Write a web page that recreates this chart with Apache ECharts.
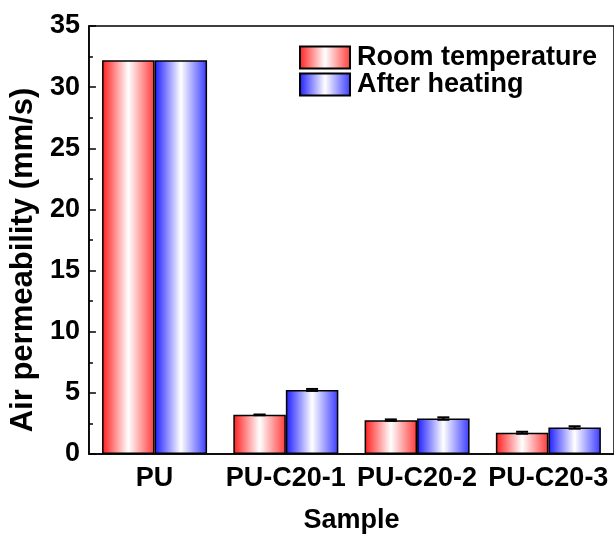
<!DOCTYPE html>
<html>
<head>
<meta charset="utf-8">
<script src="https://cdn.jsdelivr.net/npm/echarts@6/dist/echarts.min.js"></script>
<style>
  html, body { margin: 0; padding: 0; background: #fff; }
  #chart { width: 614px; height: 539px; }
</style>
</head>
<body>
<div id="chart"></div>
<script>
// Air permeability of the samples, measured at room temperature and after heating
const categories = ['PU', 'PU-C20-1', 'PU-C20-2', 'PU-C20-3'];
const roomTemp = [32.2, 3.2, 2.77, 1.74];
const afterHeating = [32.2, 5.24, 2.9, 2.17];
const roomTempErr = [0, 0.03, 0.06, 0.08];
const afterHeatingErr = [0, 0.08, 0.1, 0.1];
const seriesNames = ['Room temperature', 'After heating'];
const yTicks = { min: 0, max: 35, step: 5 };

const FONT = '"Liberation Sans", Arial, sans-serif';

function stripe(edgeL, edgeR) {
  return new echarts.graphic.LinearGradient(0, 0, 1, 0, [
    { offset: 0, color: edgeL },
    { offset: 0.5, color: '#ffffff' },
    { offset: 1, color: edgeR }
  ]);
}
const redFill = stripe('#ff1c1c', '#ff3a3a');
const blueFill = stripe('#1c1cff', '#3a3aff');

// error bar drawn over one bar of a grouped pair (side: -1 left, +1 right)
function errorBars(values, errs, side) {
  return {
    type: 'custom',
    silent: true,
    z: 5,
    data: values.map((v, i) => [i, v, errs[i]]),
    renderItem: function (params, api) {
      const e = api.value(2);
      if (!e) return null;
      const i = api.value(0), v = api.value(1);
      const band = api.size([1, 0])[0];
      const c = api.coord([i, v]);
      const x = c[0] + side * band * 0.2;
      const yHi = api.coord([i, v + e])[1];
      const yLo = api.coord([i, v - e])[1];
      const half = 6;
      const style = { stroke: '#000', lineWidth: 2 };
      return {
        type: 'group',
        children: [
          { type: 'line', shape: { x1: x, y1: yHi, x2: x, y2: yLo }, style: style },
          { type: 'line', shape: { x1: x - half, y1: yHi, x2: x + half, y2: yHi }, style: style },
          { type: 'line', shape: { x1: x - half, y1: yLo, x2: x + half, y2: yLo }, style: style }
        ]
      };
    }
  };
}

const chart = echarts.init(document.getElementById('chart'), null, { renderer: 'canvas' });
chart.setOption({
  animation: false,
  backgroundColor: '#fff',
  textStyle: { fontFamily: FONT },
  grid: {
    left: 83, top: 26, width: 534, height: 429,
    show: true, borderColor: '#000', borderWidth: 1.5, backgroundColor: 'transparent'
  },
  legend: {
    data: seriesNames.map(n => ({ name: n, icon: 'rect' })),
    orient: 'vertical',
    left: 294, top: 39,
    itemWidth: 50, itemHeight: 22,
    itemGap: 0,
    selectedMode: false,
    textStyle: { fontFamily: FONT, fontWeight: 'bold', fontSize: 27, color: '#000', lineHeight: 27, padding: [0, 0, 0, 2] },
    itemStyle: { borderColor: '#000', borderWidth: 2 }
  },
  xAxis: {
    type: 'category',
    data: categories,
    name: 'Sample',
    nameLocation: 'middle',
    nameGap: 53,
    nameTextStyle: { fontFamily: FONT, fontWeight: 'bold', fontSize: 27, color: '#000' },
    axisLine: { lineStyle: { color: '#000', width: 1.5 } },
    axisTick: { inside: true, length: 4, lineStyle: { color: '#000', width: 1.5 } },
    axisLabel: { interval: 0, fontFamily: FONT, fontWeight: 'bold', fontSize: 27, color: '#000', margin: 11 }
  },
  yAxis: {
    type: 'value',
    min: yTicks.min, max: yTicks.max, interval: yTicks.step,
    name: 'Air permeability (mm/s)',
    nameLocation: 'middle',
    nameGap: 38,
    nameTextStyle: { fontFamily: FONT, fontWeight: 'bold', fontSize: 31, color: '#000', padding: [0, 40, 0, 0] },
    axisLine: { show: true, lineStyle: { color: '#000', width: 1.5 } },
    axisTick: { show: true, inside: true, length: 7, lineStyle: { color: '#000', width: 1.5 } },
    minorTick: { show: true, splitNumber: 2, length: 4, lineStyle: { color: '#000', width: 1.5 } },
    splitLine: { show: false },
    axisLabel: { fontFamily: FONT, fontWeight: 'bold', fontSize: 27, color: '#000', margin: 9 }
  },
  series: [
    {
      name: seriesNames[0],
      type: 'bar',
      data: roomTemp,
      barGap: '0%',
      barCategoryGap: '20%',
      itemStyle: { color: redFill, borderColor: '#000', borderWidth: 1.5 }
    },
    {
      name: seriesNames[1],
      type: 'bar',
      data: afterHeating,
      barGap: '0%',
      barCategoryGap: '20%',
      itemStyle: { color: blueFill, borderColor: '#000', borderWidth: 1.5 }
    },
    errorBars(roomTemp, roomTempErr, -1),
    errorBars(afterHeating, afterHeatingErr, 1)
  ]
});
</script>
</body>
</html>
